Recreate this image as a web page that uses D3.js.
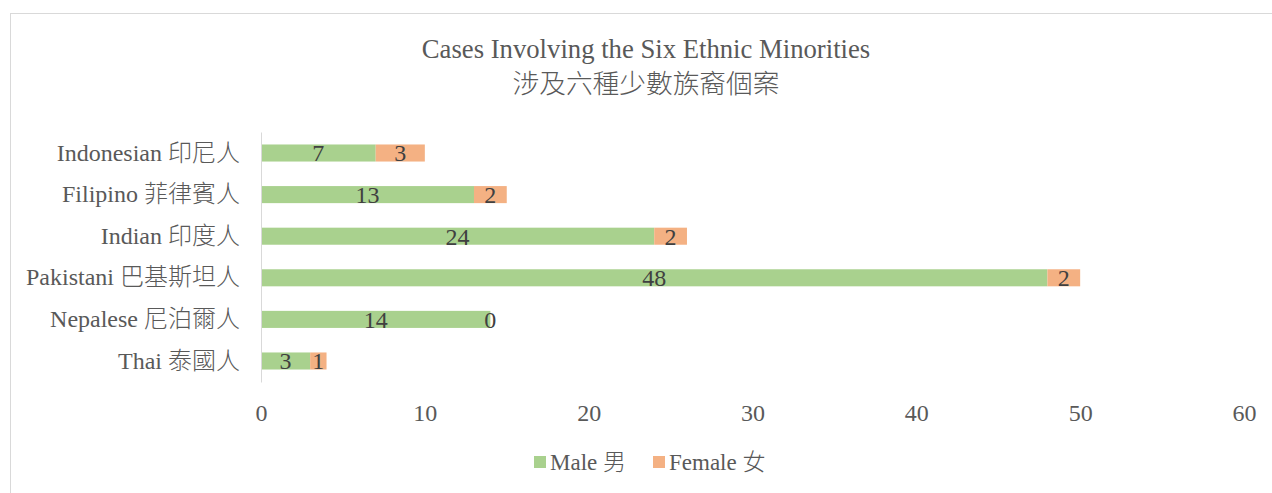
<!DOCTYPE html>
<html>
<head>
<meta charset="utf-8">
<script src="https://cdn.jsdelivr.net/npm/d3@7"></script>
<style>
  body { margin: 0; background: #fff; }
  svg text { font-family: "Liberation Serif", "Noto Sans CJK TC", serif; font-weight: 300; }
</style>
</head>
<body>
<svg width="1272" height="493"></svg>
<script>
const categories = ['Indonesian 印尼人', 'Filipino 菲律賓人', 'Indian 印度人', 'Pakistani 巴基斯坦人', 'Nepalese 尼泊爾人', 'Thai 泰國人'];
const maleValues = [7, 13, 24, 48, 14, 3];
const femaleValues = [3, 2, 2, 2, 0, 1];
const seriesNames = ['Male 男', 'Female 女'];
const xTicks = [0, 10, 20, 30, 40, 50, 60];

const MALE_COLOR = '#a9d18e';
const FEMALE_COLOR = '#f4b183';
const TEXT_COLOR = '#595959';
const LABEL_COLOR = '#404040';
const FONT_SIZE = 24;

const margin = { left: 261, right: 28, top: 132, bottom: 111 };
const width = 1272 - margin.left - margin.right;
const height = 493 - margin.top - margin.bottom;

var root = d3.select('svg');

// chart frame
root.append('rect')
    .attr('x', 10.5).attr('y', 13.5)
    .attr('width', 1300).attr('height', 500)
    .attr('fill', 'none')
    .attr('stroke', '#d9d9d9');

// title
var title = root.append('text')
    .attr('text-anchor', 'middle')
    .attr('fill', TEXT_COLOR)
    .attr('font-size', 26.7);
title.append('tspan').attr('x', 646).attr('y', 58).text('Cases Involving the Six Ethnic Minorities');
title.append('tspan').attr('x', 646).attr('y', 93).text('涉及六種少數族裔個案');

var svg = root.append('g')
    .attr('transform', 'translate(' + margin.left + ',' + margin.top + ')');

var x = d3.scaleLinear()
    .domain([0, 60])
    .range([0, width]);

var y = d3.scaleBand()
    .domain(categories)
    .range([0, height])
    .paddingInner(0.59)
    .paddingOuter(0.3);

var rows = categories.map((c, i) => ({ cat: c, male: maleValues[i], female: femaleValues[i] }));

/* bars */
svg.selectAll('.male')
    .data(rows).enter().append('rect')
    .attr('x', x(0))
    .attr('y', d => y(d.cat))
    .attr('width', d => x(d.male) - x(0))
    .attr('height', y.bandwidth())
    .attr('fill', MALE_COLOR);

svg.selectAll('.female')
    .data(rows).enter().append('rect')
    .attr('x', d => x(d.male))
    .attr('y', d => y(d.cat))
    .attr('width', d => x(d.male + d.female) - x(d.male))
    .attr('height', y.bandwidth())
    .attr('fill', FEMALE_COLOR);

/* data labels */
svg.selectAll('.mlabel')
    .data(rows).enter().append('text')
    .attr('x', d => x(d.male / 2))
    .attr('y', d => y(d.cat) + y.bandwidth() / 2)
    .attr('dy', '0.35em')
    .attr('text-anchor', 'middle')
    .attr('font-size', FONT_SIZE)
    .attr('fill', LABEL_COLOR)
    .text(d => d.male);

svg.selectAll('.flabel')
    .data(rows).enter().append('text')
    .attr('x', d => x(d.male + d.female / 2))
    .attr('y', d => y(d.cat) + y.bandwidth() / 2)
    .attr('dy', '0.35em')
    .attr('text-anchor', 'middle')
    .attr('font-size', FONT_SIZE)
    .attr('fill', LABEL_COLOR)
    .text(d => d.female);

/* Y axis */
var yAxis = svg.append('g')
    .call(d3.axisLeft(y).tickSize(0).tickPadding(21));
yAxis.select('.domain').attr('stroke', '#d9d9d9');
yAxis.selectAll('text')
    .attr('font-size', FONT_SIZE)
    .attr('fill', TEXT_COLOR);

/* X axis */
var xAxis = svg.append('g')
    .attr('transform', 'translate(0,' + height + ')')
    .call(d3.axisBottom(x).tickValues(xTicks).tickSize(0).tickPadding(22));
xAxis.select('.domain').remove();
xAxis.selectAll('text')
    .attr('font-size', FONT_SIZE)
    .attr('fill', TEXT_COLOR);

/* legend */
var legend = root.append('g');
var legendItems = [
    { name: seriesNames[0], color: MALE_COLOR, x: 534 },
    { name: seriesNames[1], color: FEMALE_COLOR, x: 653 }
];
legendItems.forEach(item => {
    legend.append('rect')
        .attr('x', item.x).attr('y', 456)
        .attr('width', 12).attr('height', 12)
        .attr('fill', item.color);
    legend.append('text')
        .attr('x', item.x + 16).attr('y', 470)
        .attr('font-size', 23)
        .attr('fill', TEXT_COLOR)
        .text(item.name);
});
</script>
</body>
</html>
